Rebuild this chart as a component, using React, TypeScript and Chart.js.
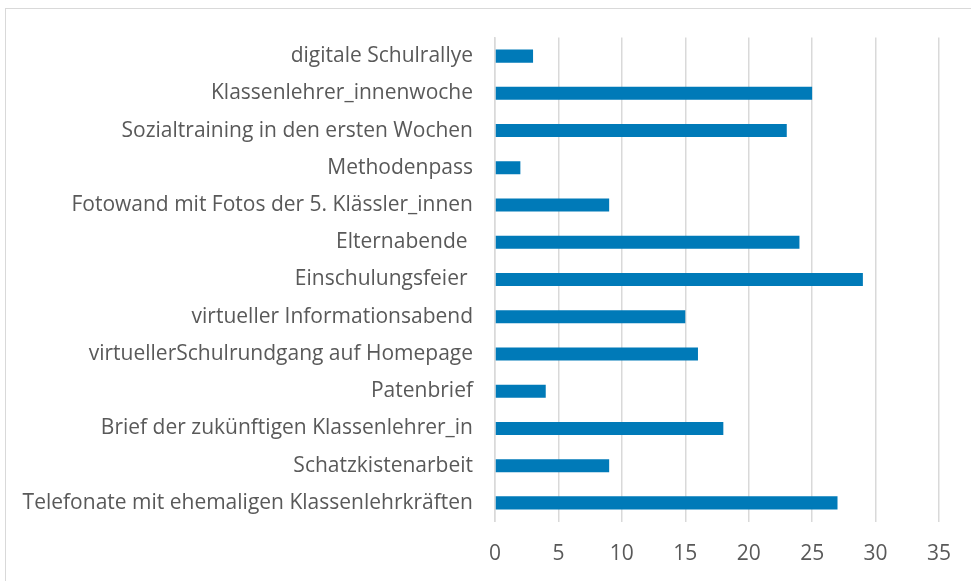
import React, { useEffect, useRef } from "react";
import { Chart, registerables } from "chart.js";

Chart.register(...registerables);

const categories: string[] = [
  "digitale Schulrallye",
  "Klassenlehrer_innenwoche",
  "Sozialtraining in den ersten Wochen",
  "Methodenpass",
  "Fotowand mit Fotos der 5. Klässler_innen",
  "Elternabende ",
  "Einschulungsfeier ",
  "virtueller Informationsabend",
  "virtuellerSchulrundgang auf Homepage",
  "Patenbrief",
  "Brief der zukünftigen Klassenlehrer_in",
  "Schatzkistenarbeit",
  "Telefonate mit ehemaligen Klassenlehrkräften",
];

const values: number[] = [3, 25, 23, 2, 9, 24, 29, 15, 16, 4, 18, 9, 27];

const xMin = 0;
const xMax = 35;
const xStep = 5;

export default function App() {
  const canvasRef = useRef<HTMLCanvasElement | null>(null);

  useEffect(() => {
    if (!canvasRef.current) return;
    const chart = new Chart(canvasRef.current, {
      type: "bar",
      data: {
        labels: categories,
        datasets: [
          {
            data: values,
            backgroundColor: "#007AB8",
            borderWidth: 0,
            categoryPercentage: 1,
            barPercentage: 0.35,
          },
        ],
      },
      options: {
        indexAxis: "y",
        animation: false,
        responsive: false,
        maintainAspectRatio: false,
        layout: { padding: { left: 0, right: 28, top: 37.5, bottom: 0 } },
        plugins: {
          legend: { display: false },
          tooltip: { enabled: false },
        },
        scales: {
          x: {
            min: xMin,
            max: xMax,
            ticks: {
              stepSize: xStep,
              color: "#595959",
              padding: 20,
              font: { family: "Open Sans", size: 21 },
            },
            grid: { color: "#d9d9d9", lineWidth: 1.5, drawTicks: false },
            border: { display: false },
            afterFit: (scale: any) => {
              scale.height = 59.5;
            },
          },
          y: {
            ticks: {
              color: "#595959",
              padding: 22,
              font: { family: "Open Sans", size: 21 },
              autoSkip: false,
            },
            grid: { display: false, drawTicks: false },
            border: { display: true, color: "#d9d9d9", width: 1.5 },
            afterFit: (scale: any) => {
              scale.width = 495;
            },
          },
        },
      },
    });
    return () => chart.destroy();
  }, []);

  return (
    <div style={{ position: "fixed", left: 0, top: 0, width: 971, height: 581, background: "#fff", overflow: "hidden" }}>
      <div
        style={{
          position: "absolute",
          left: 5,
          top: 8,
          width: 1000,
          height: 600,
          border: "1px solid #d9d9d9",
          boxSizing: "border-box",
        }}
      />
      <canvas ref={canvasRef} width={971} height={581} style={{ position: "absolute", left: 0, top: 0 }} />
    </div>
  );
}
